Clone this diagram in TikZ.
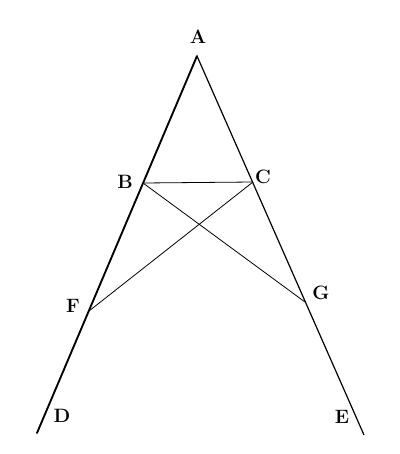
\documentclass[tikz,border=0pt]{standalone}
\begin{document}
\begin{tikzpicture}[x=0.75pt,y=-0.75pt,
  lbl/.style={font=\fontsize{14.5}{16}\selectfont\bfseries, inner sep=0pt},
  thick line/.style={line width=1.4pt, line cap=round},
  thin line/.style={line width=0.6pt}]
\useasboundingbox (0,0) rectangle (400,454);
\coordinate (A) at (197,56);
\coordinate (D) at (37,433);
\coordinate (E) at (364,435);
\coordinate (B) at (143,183);
\coordinate (C) at (253,182);
\coordinate (F) at (89,311);
\coordinate (G) at (305,302);
\draw[thick line] (A) -- (D);
\draw[line width=0.9pt] (A) -- (E);
\draw[thin line] (B) -- (C);
\draw[thin line] (B) -- (G);
\draw[thin line] (C) -- (F);
\node[lbl] (lA) at (198,37) {A};
\node[lbl] (lB) at (125,182) {B};
\node[lbl] (lC) at (263,177) {C};
\node[lbl] (lF) at (73,306) {F};
\node[lbl] (lG) at (321,293) {G};
\node[lbl] (lD) at (62,416) {D};
\node[lbl] (lE) at (342,417) {E};
\end{tikzpicture}
\end{document}
